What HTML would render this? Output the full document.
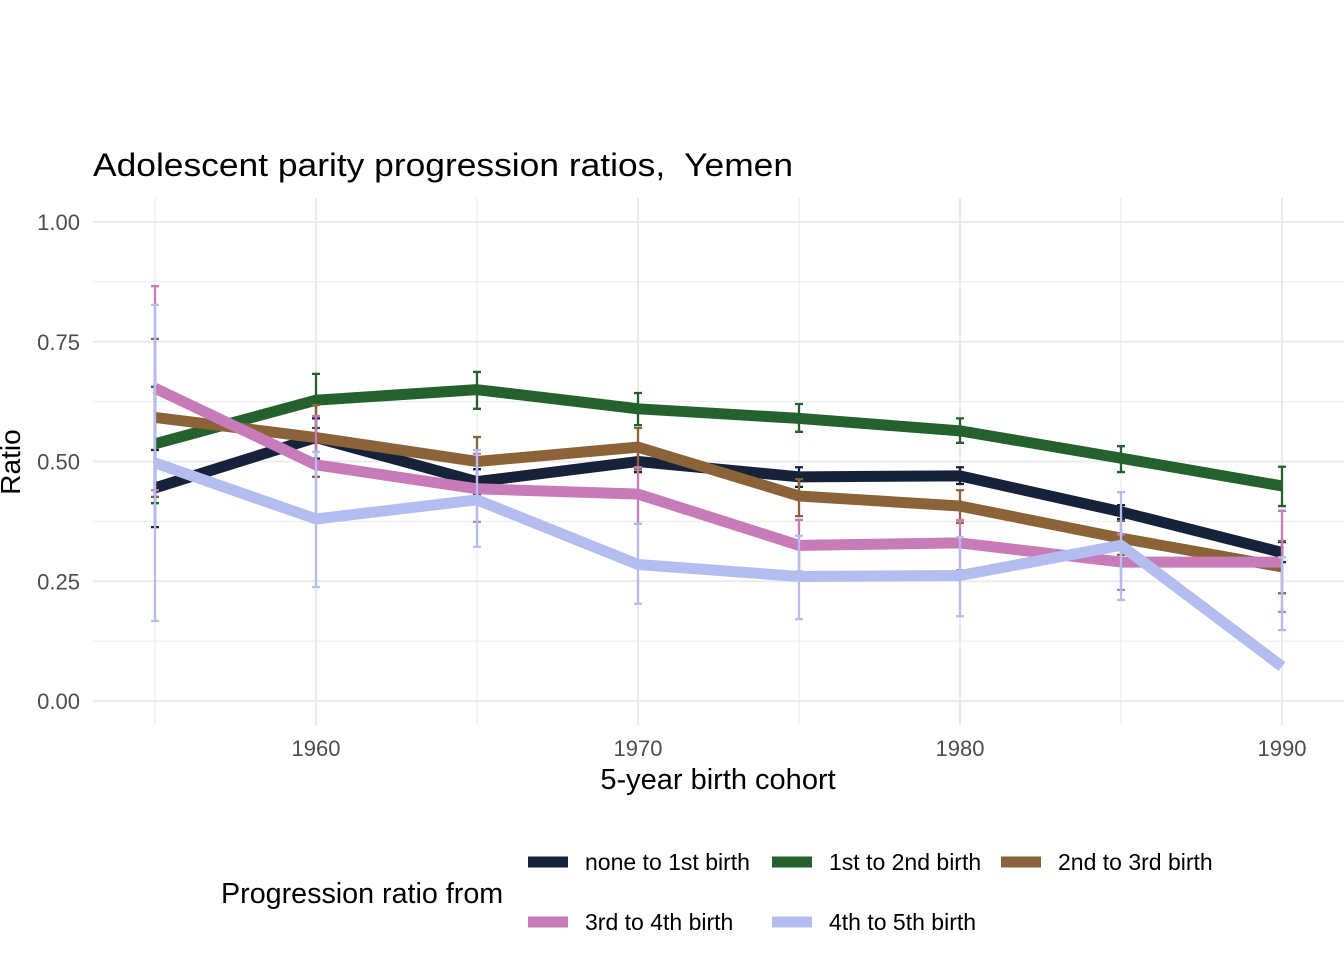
<!DOCTYPE html>
<html><head><meta charset="utf-8"><style>
body{margin:0;background:#fff;}
svg text{font-family:"Liberation Sans",Arial,sans-serif;}
</style></head><body>
<svg id="c" width="1344" height="960" xmlns="http://www.w3.org/2000/svg">
<text x="93" y="176" font-size="32" textLength="700" lengthAdjust="spacingAndGlyphs" fill="#000" xml:space="preserve">Adolescent parity progression ratios,  Yemen</text>
<g id="grid"></g><g id="axes"></g><g id="marks"></g><g id="legend"></g>
<text x="718" y="789" font-size="29" text-anchor="middle" fill="#000">5-year birth cohort</text>
<text transform="translate(20,462) rotate(-90)" font-size="28" text-anchor="middle" fill="#000">Ratio</text>
<text x="221" y="903" font-size="28.7" fill="#000">Progression ratio from</text>
</svg>
<script>
const years=[1955,1960,1965,1970,1975,1980,1985,1990];
const seriesNames=["none to 1st birth","1st to 2nd birth","2nd to 3rd birth","3rd to 4th birth","4th to 5th birth"];
const colors=["#15223a","#24612c","#8c6239","#c77bb8","#b3bdf0"];
const s0=[.445,.55,.458,.50,.468,.47,.395,.31];
const s0lo=[.363,.506,.432,.478,.447,.453,.38,.29];
const s0hi=[.524,.59,.484,.524,.488,.488,.409,.332];
const s1=[.537,.628,.65,.61,.59,.564,.507,.449];
const s1lo=[.413,.57,.61,.576,.562,.539,.478,.407];
const s1hi=[.656,.683,.687,.643,.62,.59,.532,.489];
const s2=[.592,.55,.50,.53,.428,.407,.34,.28];
const s2lo=[.426,.468,.451,.484,.386,.372,.305,.225];
const s2hi=[.756,.618,.551,.57,.463,.44,.376,.334];
const s3=[.653,.493,.443,.432,.325,.33,.29,.29];
const s3lo=[.44,.388,.374,.37,.27,.273,.232,.186];
const s3hi=[.866,.595,.516,.488,.378,.378,.348,.397];
const s4=[.497,.38,.42,.285,.26,.262,.325,.072];
const s4lo=[.167,.238,.322,.203,.171,.177,.211,.148];
const s4hi=[.827,.52,.524,.37,.345,.342,.436,.30];
const yTicks=[0,0.25,0.5,0.75,1.0];
const yTickLabels=["0.00","0.25","0.50","0.75","1.00"];
const xTicks=[1960,1970,1980,1990];
const vals=[s0,s1,s2,s3,s4],los=[s0lo,s1lo,s2lo,s3lo,s4lo],his=[s0hi,s1hi,s2hi,s3hi,s4hi];
const X=y=>155+(y-1955)*32.2;
const Y=v=>701-v*479;
const NS="http://www.w3.org/2000/svg";
function mk(t,a,p){const e=document.createElementNS(NS,t);for(const k in a)e.setAttribute(k,a[k]);p.appendChild(e);return e;}
const grid=document.getElementById('grid'),axes=document.getElementById('axes'),marks=document.getElementById('marks'),leg=document.getElementById('legend');
for(let v=0;v<=1.001;v+=0.125){const major=Math.abs(v*4-Math.round(v*4))<1e-6;
 const l=mk('line',{x1:93,x2:1344,y1:Y(v),y2:Y(v),stroke:'#ebebeb','stroke-width':major?2:1.1},grid);
 }
for(let yr=1955;yr<=1990;yr+=5){const major=yr%10===0;
 const l=mk('line',{x1:X(yr),x2:X(yr),y1:198,y2:725,stroke:'#ebebeb','stroke-width':major?2:1.1},grid);
 }
yTicks.forEach((v,i)=>{const t=mk('text',{x:80,y:Y(v)+8,'font-size':22,'text-anchor':'end',fill:'#4d4d4d'},axes);t.textContent=yTickLabels[i];
 });
xTicks.forEach(v=>{const t=mk('text',{x:X(v),y:756,'font-size':22,'text-anchor':'middle',fill:'#4d4d4d'},axes);t.textContent=v;
 });
vals.forEach((s,i)=>{
 const g=mk('g',{},marks);
 s.forEach((v,j)=>{const x=X(years[j]),a=Y(los[i][j]),b=Y(his[i][j]);
  const e=mk('path',{d:`M${x-4},${a}H${x+4}M${x},${a}V${b}M${x-4},${b}H${x+4}`,stroke:colors[i],'stroke-width':2.3,fill:'none'},g);
  });
 const p=mk('polyline',{points:s.map((v,j)=>X(years[j])+','+Y(v)).join(' '),stroke:colors[i],'stroke-width':11,fill:'none','stroke-linejoin':'round'},g);
 
});
const lp=[[528,862],[772,862],[1001,862],[528,922],[772,922]];
seriesNames.forEach((n,i)=>{const g=mk('g',{},leg);
 const [x,y]=lp[i];
 const r=mk('line',{x1:x,x2:x+40,y1:y,y2:y,stroke:colors[i],'stroke-width':11},g);
 
 const t=mk('text',{x:x+57,y:y+8,'font-size':23,fill:'#000'},g);t.textContent=n;
 });
</script>
</body></html>
